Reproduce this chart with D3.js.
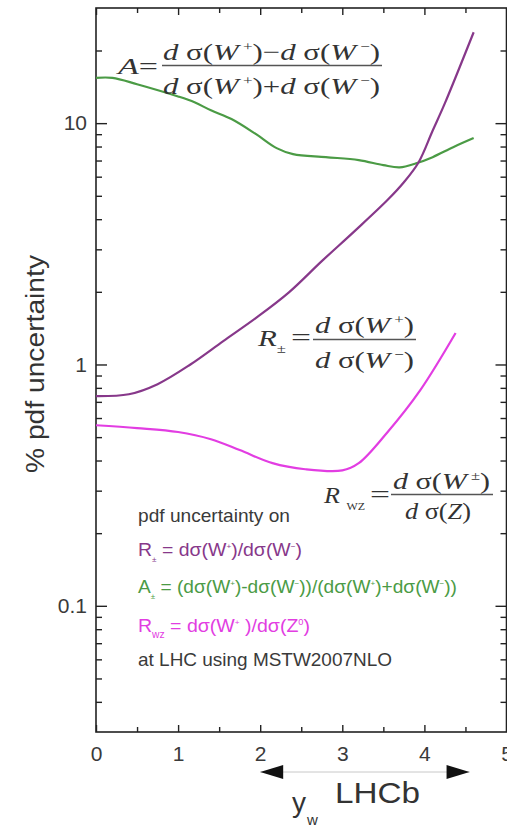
<!DOCTYPE html>
<html>
<head>
<meta charset="utf-8">
<script src="https://cdn.jsdelivr.net/npm/d3@7"></script>
<style>
  html, body { margin: 0; padding: 0; background: #fff; }
  svg { display: block; }
  .tick text { font-family: "Liberation Sans", Arial, sans-serif; fill: #3a3a3a; }
</style>
</head>
<body>
<svg id="chart" width="507" height="827"></svg>
<script>
// W-boson rapidity grid and pdf uncertainties (%) for each observable
const rapidityA   = [0, 0.2, 0.5, 1.0, 1.2, 1.4, 1.65, 1.95, 2.2, 2.4, 2.8, 3.2, 3.5, 3.7, 3.9, 4.1, 4.35, 4.6];
const asymmetryA  = [15.4, 15.4, 14.5, 12.9, 12.2, 11.3, 10.4, 9.0, 7.88, 7.44, 7.23, 7.03, 6.70, 6.56, 6.82, 7.23, 7.95, 8.67];

const rapidityR   = [0, 0.4, 0.75, 1.15, 1.55, 1.95, 2.35, 2.75, 3.15, 3.55, 3.75, 3.93, 4.1, 4.25, 4.6];
const ratioPM     = [0.739, 0.753, 0.829, 1.0, 1.25, 1.56, 1.99, 2.68, 3.57, 4.80, 5.69, 6.89, 9.3, 12.1, 23.8];

const rapidityWZ  = [0, 0.5, 1.0, 1.4, 1.75, 2.15, 2.55, 3.0, 3.2, 3.55, 3.95, 4.38];
const ratioWZ     = [0.560, 0.545, 0.525, 0.49, 0.442, 0.39, 0.368, 0.364, 0.39, 0.524, 0.783, 1.35];

const xTicks      = [0, 1, 2, 3, 4, 5];
const xMinorTicks = [0.5, 1.5, 2.5, 3.5, 4.5];
const yTicks      = [0.1, 1, 10];
const yMinorTicks = [0.04, 0.05, 0.06, 0.07, 0.08, 0.09,
                     0.2, 0.3, 0.4, 0.5, 0.6, 0.7, 0.8, 0.9,
                     2, 3, 4, 5, 6, 7, 8, 9, 20];

const COLORS = { A: "#4b9b45", R: "#87388a", WZ: "#e23de2" };
const INK = "#333";
const SERIF = "'Liberation Serif', 'Times New Roman', serif";
const SANS = "'Liberation Sans', Arial, sans-serif";

const svg = d3.select("#chart");
const L = 96, R = 506.5, T = 8, B = 732;

const x = d3.scaleLinear().domain([0, 5]).range([L, R]);
const y = d3.scaleLog().domain([0.03, 30]).range([B, T]);

// axes with inward ticks on all four sides
function addAxis(axis, tx, ty, fontSize) {
  const g = svg.append("g").attr("transform", `translate(${tx},${ty})`).call(axis);
  g.select(".domain").remove();
  g.selectAll(".tick line").attr("stroke", "#222").attr("stroke-width", 1.4);
  if (fontSize) g.selectAll(".tick text").attr("font-size", fontSize);
  return g;
}
addAxis(d3.axisBottom(x).tickValues(xTicks).tickSize(-7).tickPadding(14).tickFormat(d3.format("d")), 0, B, 21);
addAxis(d3.axisBottom(x).tickValues(xMinorTicks).tickSize(-5).tickFormat(""), 0, B);
addAxis(d3.axisTop(x).tickValues(xTicks).tickSize(-7).tickFormat(""), 0, T);
addAxis(d3.axisTop(x).tickValues(xMinorTicks).tickSize(-5).tickFormat(""), 0, T);
addAxis(d3.axisLeft(y).tickValues(yTicks).tickSize(-11).tickPadding(9).tickFormat(d3.format("~g")), L, 0, 21);
addAxis(d3.axisLeft(y).tickValues(yMinorTicks).tickSize(-6).tickFormat(""), L, 0);
addAxis(d3.axisRight(y).tickValues(yTicks).tickSize(-11).tickFormat(""), R, 0);
addAxis(d3.axisRight(y).tickValues(yMinorTicks).tickSize(-6).tickFormat(""), R, 0);

svg.append("rect")
  .attr("x", L).attr("y", T).attr("width", R - L).attr("height", B - T)
  .attr("fill", "none").attr("stroke", "#222").attr("stroke-width", 1.6);

// curves
const line = d3.line().x(d => x(d[0])).y(d => y(d[1])).curve(d3.curveCatmullRom.alpha(0.5));
const series = [
  { xs: rapidityA,  vs: asymmetryA, color: COLORS.A },
  { xs: rapidityR,  vs: ratioPM,    color: COLORS.R },
  { xs: rapidityWZ, vs: ratioWZ,    color: COLORS.WZ }
];
svg.append("g").selectAll("path").data(series).join("path")
  .attr("d", s => line(d3.zip(s.xs, s.vs)))
  .attr("fill", "none")
  .attr("stroke", d => d.color)
  .attr("stroke-width", 2.2)
  .attr("stroke-linejoin", "round");

// rich text helper: segments {t, it, sup, sub, size}
function rich(px, py, segs, opts) {
  const t = svg.append("text")
    .attr("x", px).attr("y", py)
    .attr("font-family", opts.family)
    .attr("font-size", opts.size)
    .attr("fill", opts.fill);
  if (opts.len) t.attr("textLength", opts.len).attr("lengthAdjust", "spacingAndGlyphs");
  let shift = 0;
  segs.forEach(s => {
    const target = s.sup ? -opts.size * 0.38 : s.sub ? opts.size * 0.3 : 0;
    const sp = t.append("tspan").text(s.t).attr("dy", target - shift);
    shift = target;
    if (s.it) sp.attr("font-style", "italic");
    if (s.sup || s.sub) sp.attr("font-size", s.size || opts.size * 0.55);
  });
  return t;
}

// formula helpers
const dsig = (charge) => [{ t: "d", it: true }, { t: " σ" }, { t: "(" }, { t: "W", it: true }, { t: " " + charge, sup: true }, { t: ")" }];
const fracLine = (x1, x2, yy) => svg.append("line")
  .attr("x1", x1).attr("x2", x2).attr("y1", yy).attr("y2", yy)
  .attr("stroke", "#555").attr("stroke-width", 1.3);
const serifOpts = (len, size = 24) => ({ family: SERIF, size, fill: INK, len });

// asymmetry definition
rich(118, 74, [{ t: "A", it: true }, { t: "=" }], serifOpts(40));
rich(163, 60, [...dsig("+"), { t: "−" }, ...dsig("−")], serifOpts(217));
fracLine(162, 382, 65.5);
rich(163, 94, [...dsig("+"), { t: "+" }, ...dsig("−")], serifOpts(217));

// W+/W- ratio definition
rich(258, 346, [{ t: "R", it: true }, { t: "±", sub: true, size: 13 }, { t: "  " }], serifOpts(28));
rich(291, 345, [{ t: "=" }], serifOpts(20));
rich(315, 333, dsig("+"), serifOpts(99));
fracLine(313, 416, 339.5);
rich(315, 368, dsig("−"), serifOpts(99));

// W/Z ratio definition
rich(324, 503, [{ t: "R", it: true }, { t: " " }, { t: "WZ", sub: true, size: 11 }], serifOpts(41));
rich(370, 502, [{ t: "=" }], serifOpts(20));
rich(393, 489, dsig("±"), serifOpts(97));
fracLine(391, 493, 494.5);
rich(405, 519, [{ t: "d", it: true }, { t: " σ" }, { t: "(" }, { t: "Z", it: true }, { t: ")" }], serifOpts(66));

// legend block
const sansOpts = (fill, len) => ({ family: SANS, size: 19, fill, len });
rich(138, 522, [{ t: "pdf uncertainty on" }], sansOpts("#3a3a3a", 152));
rich(138, 556, [{ t: "R" }, { t: "±", sub: true, size: 8 }, { t: "  = dσ(W" }, { t: "+", sup: true, size: 8 }, { t: ")/dσ(W" }, { t: "−", sup: true, size: 8 }, { t: ")" }],
  sansOpts(COLORS.R, 164));
rich(138, 593, [{ t: "A" }, { t: "±", sub: true, size: 8 }, { t: "  = (dσ(W" }, { t: "+", sup: true, size: 8 }, { t: ")-dσ(W" }, { t: "−", sup: true, size: 8 },
  { t: "))/(dσ(W" }, { t: "+", sup: true, size: 8 }, { t: ")+dσ(W" }, { t: "−", sup: true, size: 8 }, { t: "))" }],
  sansOpts(COLORS.A, 319));
rich(138, 632, [{ t: "R" }, { t: "wz", sub: true, size: 10 }, { t: " = dσ(W" }, { t: "+", sup: true, size: 8 }, { t: " )/dσ(Z" }, { t: "0", sup: true, size: 9 }, { t: ")" }],
  sansOpts(COLORS.WZ, 172));
rich(138, 666, [{ t: "at LHC using MSTW2007NLO" }], sansOpts("#3a3a3a", 254));

// y-axis title
svg.append("text")
  .attr("transform", "translate(44,364) rotate(-90)")
  .attr("text-anchor", "middle")
  .attr("font-family", SANS).attr("font-size", 25).attr("fill", INK)
  .attr("textLength", 218).attr("lengthAdjust", "spacingAndGlyphs")
  .text("% pdf uncertainty");

// x-axis title and LHCb acceptance arrow
rich(292, 812, [{ t: "y" }], { family: SANS, size: 28, fill: INK });
rich(307, 825, [{ t: "w" }], { family: SANS, size: 15, fill: INK });
svg.append("text")
  .attr("x", 335).attr("y", 803)
  .attr("font-family", SANS).attr("font-size", 29).attr("fill", INK)
  .attr("textLength", 85).attr("lengthAdjust", "spacingAndGlyphs")
  .text("LHCb");

const lhcbRange = [2.0, 4.55];
const ay = 772;
svg.append("line")
  .attr("x1", x(lhcbRange[0])).attr("x2", x(lhcbRange[1])).attr("y1", ay).attr("y2", ay)
  .attr("stroke", "#c8c8c8").attr("stroke-width", 1);
const head = 23, half = 7;
svg.append("path")
  .attr("d", `M${x(lhcbRange[0])},${ay}L${x(lhcbRange[0]) + head},${ay - half}L${x(lhcbRange[0]) + head},${ay + half}Z`)
  .attr("fill", "#111");
svg.append("path")
  .attr("d", `M${x(lhcbRange[1])},${ay}L${x(lhcbRange[1]) - head},${ay - half}L${x(lhcbRange[1]) - head},${ay + half}Z`)
  .attr("fill", "#111");
</script>
</body>
</html>
